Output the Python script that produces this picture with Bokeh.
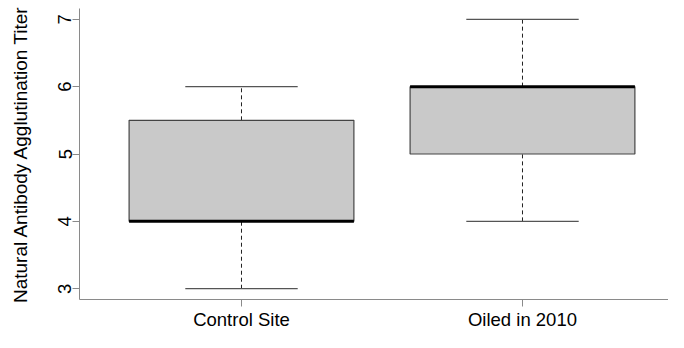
from bokeh.plotting import figure
from bokeh.models import Range1d, FixedTicker
from bokeh.embed import file_html
from bokeh.resources import INLINE

# data
groups = ["Control Site", "Oiled in 2010"]
xpos = [1, 2]
lower = [3, 4]
q1 = [4, 5]
median = [4, 6]
q3 = [5.5, 6]
upper = [6, 7]

box_w = 0.8
cap_w = 0.4

p = figure(width=668, height=332, output_backend="svg", toolbar_location=None,
           x_range=Range1d(0.4235, 2.5196), y_range=Range1d(2.84, 7.16),
           min_border_left=79, min_border_right=0, min_border_top=8, min_border_bottom=0)
p.outline_line_color = None
p.xgrid.grid_line_color = None
p.ygrid.grid_line_color = None
p.background_fill_color = "white"
p.border_fill_color = "white"

# whiskers
p.segment(x0=xpos, x1=xpos, y0=q3, y1=upper, line_color="#222222", line_width=1, line_dash="4 3")
p.segment(x0=xpos, x1=xpos, y0=lower, y1=q1, line_color="#222222", line_width=1, line_dash="4 3")
# caps
p.segment(x0=[x - cap_w / 2 for x in xpos], x1=[x + cap_w / 2 for x in xpos], y0=upper, y1=upper,
          line_color="#555555", line_width=1.2)
p.segment(x0=[x - cap_w / 2 for x in xpos], x1=[x + cap_w / 2 for x in xpos], y0=lower, y1=lower,
          line_color="#555555", line_width=1.2)
# boxes
p.vbar(x=xpos, width=box_w, bottom=q1, top=q3, fill_color="#C9C9C9",
       line_color="#444444", line_width=1.2)
# medians
p.segment(x0=[x - box_w / 2 for x in xpos], x1=[x + box_w / 2 for x in xpos], y0=median, y1=median,
          line_color="black", line_width=3)

font = "Liberation Sans"
axis_col = "#8a8a8a"

p.xaxis.ticker = FixedTicker(ticks=xpos)
p.xaxis.major_label_overrides = {x: g for x, g in zip(xpos, groups)}
p.xaxis.minor_tick_line_color = None
p.xaxis.major_tick_out = 7
p.xaxis.major_tick_in = 0
p.xaxis.major_label_standoff = 2
p.xaxis.axis_line_color = axis_col
p.xaxis.major_tick_line_color = axis_col
p.xaxis.major_label_text_font = font
p.xaxis.major_label_text_font_size = "18.5px"
p.xaxis.major_label_text_color = "black"

p.yaxis.ticker = FixedTicker(ticks=[3, 4, 5, 6, 7])
p.yaxis.minor_tick_line_color = None
p.yaxis.major_tick_out = 7
p.yaxis.major_tick_in = 0
p.yaxis.major_label_standoff = 1
p.yaxis.major_label_orientation = "vertical"
p.yaxis.axis_line_color = axis_col
p.yaxis.major_tick_line_color = axis_col
p.yaxis.major_label_text_font = font
p.yaxis.major_label_text_font_size = "18.5px"
p.yaxis.major_label_text_color = "black"
p.yaxis.axis_label = "Natural Antibody Agglutination Titer"
p.yaxis.axis_label_text_font = font
p.yaxis.axis_label_text_font_size = "19px"
p.yaxis.axis_label_text_font_style = "normal"
p.yaxis.axis_label_text_color = "black"
p.yaxis.axis_label_standoff = 25

open("out.html", "w").write(file_html(p, INLINE))
